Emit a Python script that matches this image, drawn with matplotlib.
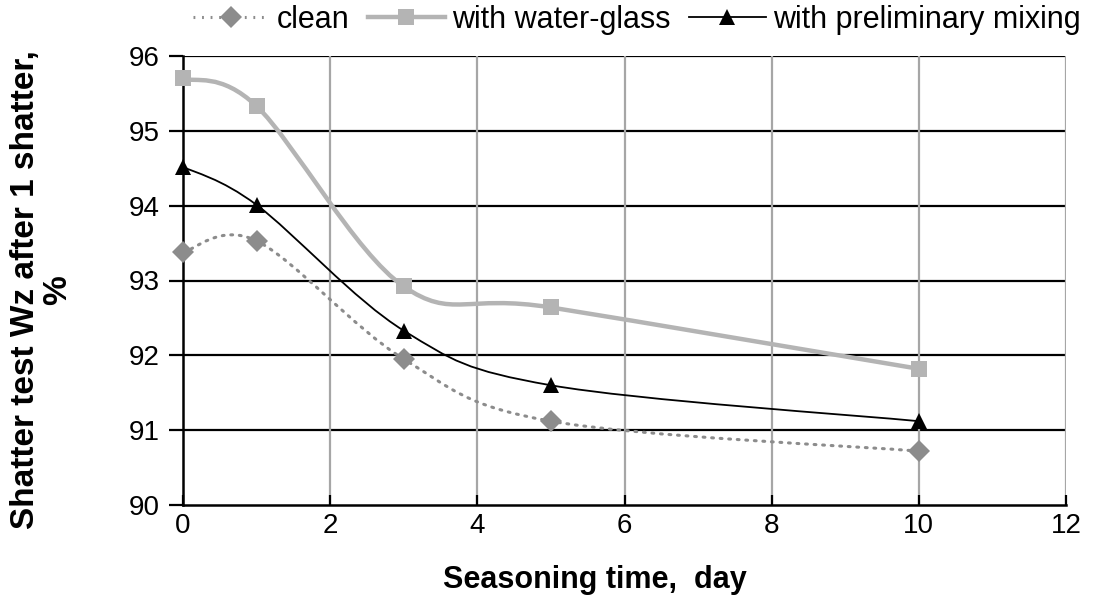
import numpy as np
import matplotlib
matplotlib.use("Agg")
import matplotlib.pyplot as plt
from matplotlib.path import Path
from matplotlib.patches import PathPatch
from matplotlib.lines import Line2D

plt.rcParams['font.family'] = ['Liberation Sans', 'DejaVu Sans']

days = [0, 1, 3, 5, 10]
clean = [93.38, 93.53, 91.95, 91.12, 90.72]
water_glass = [95.70, 95.33, 92.92, 92.64, 91.82]
preliminary = [94.52, 94.01, 92.33, 91.60, 91.12]

x_ticks = [0, 2, 4, 6, 8, 10, 12]
y_ticks = [90, 91, 92, 93, 94, 95, 96]


def smooth_path(xs, ys):
    pts = np.column_stack([xs, ys]).astype(float)
    n = len(pts)
    verts = [pts[0]]
    codes = [Path.MOVETO]
    for i in range(n - 1):
        p0 = pts[i - 1] if i > 0 else pts[i]
        p1 = pts[i]
        p2 = pts[i + 1]
        p3 = pts[i + 2] if i + 2 < n else pts[i + 1]
        c1 = p1 + (p2 - p0) / 6.0
        c2 = p2 - (p3 - p1) / 6.0
        verts += [c1, c2, p2]
        codes += [Path.CURVE4] * 3
    return Path(verts, codes)


W, H = 1096, 609
fig = plt.figure(figsize=(W / 100, H / 100), dpi=100)
ax = fig.add_axes([183 / W, 1 - 505 / H, (1066 - 183) / W, (505 - 56) / H])
ax.set_xlim(0, 12)
ax.set_ylim(90, 96)

# grid
for yv in y_ticks[1:]:
    ax.axhline(yv, color='black', lw=1.6, zorder=1)
for xv in x_ticks[1:]:
    ax.axvline(xv, color='#a6a6a6', lw=1.6, zorder=1)

series = [
    (clean, '#8c8c8c', 2.2, (0, (0.6, 2.2)), 'D', 11, 'clean'),
    (water_glass, '#b4b4b4', 3.2, '-', 's', 11.5, 'with water-glass'),
    (preliminary, 'black', 1.3, '-', '^', 11, 'with preliminary mixing'),
]
handles = []
for ys, col, lw, ls, mk, ms, lab in series:
    patch = PathPatch(smooth_path(days, ys), facecolor='none', edgecolor=col,
                      lw=lw, linestyle=ls, zorder=3, capstyle='round')
    ax.add_patch(patch)
    ax.plot(days, ys, linestyle='none', marker=mk, color=col, ms=ms,
            markeredgewidth=0, zorder=4, clip_on=False)
    handles.append(Line2D([], [], color=col, lw=lw, linestyle=ls, marker=mk,
                          ms=ms, markeredgewidth=0, label=lab))

for s in ['top', 'right']:
    ax.spines[s].set_visible(False)
ax.spines['left'].set_linewidth(1.8)
ax.spines['bottom'].set_linewidth(1.8)
ax.spines['left'].set_zorder(2)
ax.spines['bottom'].set_zorder(2)

ax.set_xticks(x_ticks)
ax.set_yticks(y_ticks)
ax.tick_params(axis='y', direction='out', length=10, width=1.6, labelsize=20, pad=7)
ax.tick_params(axis='x', direction='in', length=7, width=1.6, labelsize=20, pad=6)

fig.text(595 / W, 1 - 580 / H, 'Seasoning time,  day', fontsize=22,
         fontweight='bold', ha='center', va='center')
fig.text(42 / W, 1 - 290 / H, 'Shatter test Wz after 1 shatter,\n%', fontsize=24,
         fontweight='bold', ha='center', va='center', rotation=90,
         multialignment='center', linespacing=1.05)

leg = fig.legend(handles=handles, loc='center', bbox_to_anchor=(637 / W, 1 - 20 / H),
                 ncol=3, frameon=False, fontsize=22, handlelength=2.5,
                 columnspacing=0.6, handletextpad=0.25, borderpad=0, borderaxespad=0)

fig.savefig('out.png', dpi=100)
